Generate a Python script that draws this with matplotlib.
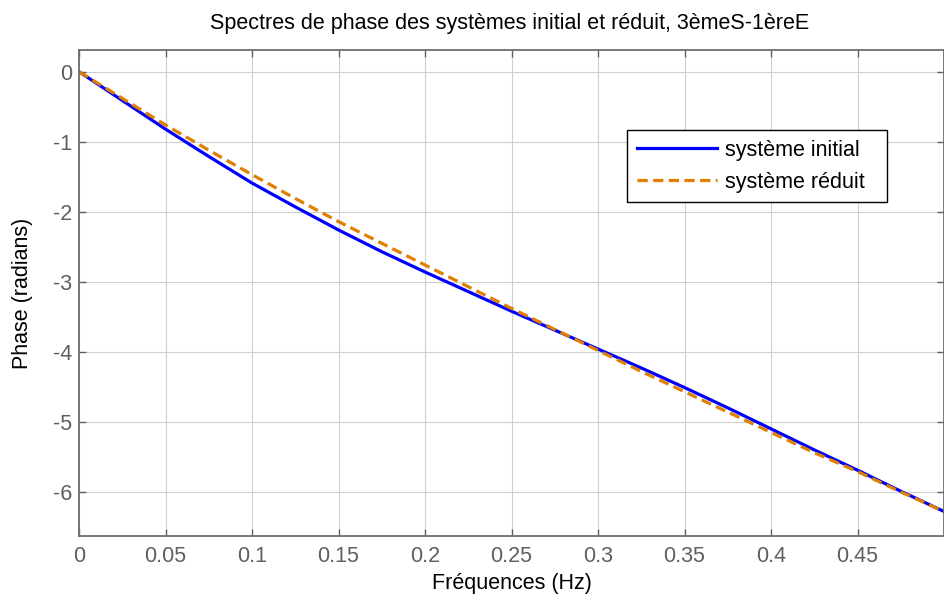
import matplotlib
matplotlib.use("Agg")
import matplotlib.pyplot as plt

plt.rcParams["font.family"] = ["Liberation Sans", "DejaVu Sans"]

# data
freq = [0.0, 0.025, 0.05, 0.075, 0.1, 0.125, 0.15, 0.175, 0.2, 0.225, 0.25,
        0.275, 0.3, 0.325, 0.35, 0.375, 0.4, 0.425, 0.45, 0.475, 0.5]
phase_initial = [0.0, -0.41, -0.82, -1.21, -1.59, -1.93, -2.26, -2.57, -2.86, -3.14, -3.42,
                 -3.69, -3.96, -4.23, -4.51, -4.80, -5.10, -5.40, -5.69, -5.99, -6.28]
phase_reduit = [0.0, -0.38, -0.76, -1.12, -1.47, -1.81, -2.14, -2.45, -2.76, -3.07, -3.38,
                -3.68, -3.98, -4.28, -4.57, -4.86, -5.15, -5.44, -5.71, -6.00, -6.28]

xticks = [0, 0.05, 0.1, 0.15, 0.2, 0.25, 0.3, 0.35, 0.4, 0.45]
xticklabels = ["0", "0.05", "0.1", "0.15", "0.2", "0.25", "0.3", "0.35", "0.4", "0.45"]
yticks = [0, -1, -2, -3, -4, -5, -6]
yticklabels = ["0", "-1", "-2", "-3", "-4", "-5", "-6"]

FS = 15.5

fig = plt.figure(figsize=(9.44, 6.01), dpi=100)
ax = fig.add_axes([79 / 944, 65 / 601, 865 / 944, 486 / 601])

ax.plot(freq, phase_initial, color="#0000ff", lw=2.3, label="système initial")
ax.plot(freq, phase_reduit, color="#e07f00", lw=2.3, ls=(0, (3.2, 1.7)), label="système réduit")

ax.set_xlim(0, 0.5)
ax.set_ylim(-6.63, 0.31)
ax.set_xticks(xticks)
ax.set_xticklabels(xticklabels)
ax.set_yticks(yticks)
ax.set_yticklabels(yticklabels)
ax.grid(True, color="#cfcfcf", lw=0.8)
ax.set_axisbelow(True)

ax.tick_params(direction="in", top=True, right=True, length=5, width=1.0,
               colors="#5f5f5f", labelsize=FS)
ax.tick_params(axis="x", pad=7)
ax.tick_params(axis="y", pad=5)
for sp in ax.spines.values():
    sp.set_color("#6e6e6e")
    sp.set_linewidth(1.3)

ax.set_xlabel("Fréquences (Hz)", fontsize=FS, va="center")
ax.xaxis.set_label_coords(0.5, -(583 - 536) / 486)
ax.set_ylabel("Phase (radians)", fontsize=FS)
ax.yaxis.set_label_coords((33 - 79) / 865, 0.5)

fig.text(510 / 944, 1 - 23 / 601, "Spectres de phase des systèmes initial et réduit, 3èmeS-1èreE",
         ha="center", va="center", fontsize=FS)

leg = ax.legend(loc="upper left", bbox_to_anchor=(0.634, 0.5, 0.30, 0.335),
                mode="expand", fontsize=FS, frameon=True, fancybox=False,
                handlelength=3.7, handletextpad=0.4, borderpad=0.45,
                labelspacing=0.5, borderaxespad=0)
leg.get_frame().set_edgecolor("black")
leg.get_frame().set_linewidth(1.0)
leg.get_frame().set_alpha(1)

fig.savefig("out.png", dpi=100)
